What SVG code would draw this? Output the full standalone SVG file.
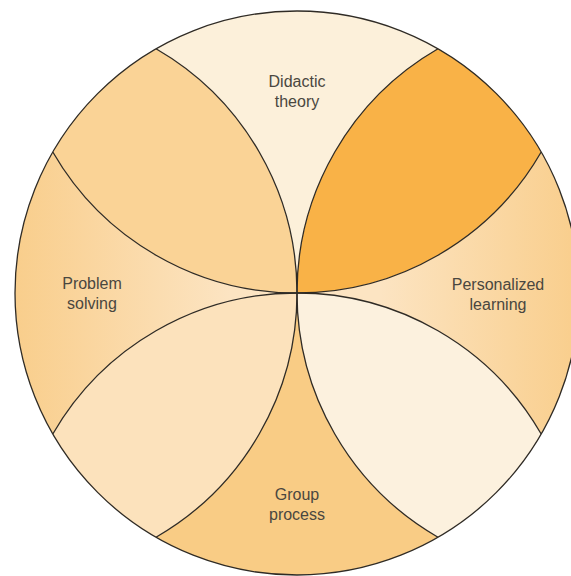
<svg xmlns="http://www.w3.org/2000/svg" width="571" height="576" viewBox="0 0 571 576">
<style>
.lbl{font-family:"Liberation Sans",Arial,sans-serif;font-size:16px;fill:#4a4740;text-anchor:middle}
.ln{fill:none;stroke:#2f2b25;stroke-width:1.3}
</style>
<defs>
<linearGradient id="gR" x1="380" y1="0" x2="579" y2="0" gradientUnits="userSpaceOnUse">
<stop offset="0" stop-color="#FCE4C2"/><stop offset="1" stop-color="#F9CE8C"/>
</linearGradient>
<linearGradient id="gL" x1="15" y1="0" x2="230" y2="0" gradientUnits="userSpaceOnUse">
<stop offset="0" stop-color="#F9CE8C"/><stop offset="1" stop-color="#FCE4C2"/>
</linearGradient>
</defs>
<rect width="571" height="576" fill="#ffffff"/>
<g id="didactic-theory">
<path fill="#FCF0DA" d="M297 293 A282 282 0 0 0 156 48.8 A282 282 0 0 1 438 48.8 A282 282 0 0 0 297 293 Z"/>
<text class="lbl" x="297" y="87">Didactic</text>
<text class="lbl" x="297" y="107">theory</text>
</g>
<g id="petal-top-right">
<path fill="#F9B247" d="M297 293 A282 282 0 0 1 438 48.8 A282 282 0 0 1 541.2 152 A282 282 0 0 1 297 293 Z"/>
</g>
<g id="personalized-learning">
<path fill="url(#gR)" d="M297 293 A282 282 0 0 0 541.2 152 A282 282 0 0 1 541.2 434 A282 282 0 0 0 297 293 Z"/>
<text class="lbl" x="498" y="290">Personalized</text>
<text class="lbl" x="498" y="310">learning</text>
</g>
<g id="petal-bottom-right">
<path fill="#FCF1DE" d="M297 293 A282 282 0 0 1 541.2 434 A282 282 0 0 1 438 537.2 A282 282 0 0 1 297 293 Z"/>
</g>
<g id="group-process">
<path fill="#F9CC85" d="M297 293 A282 282 0 0 0 438 537.2 A282 282 0 0 1 156 537.2 A282 282 0 0 0 297 293 Z"/>
<text class="lbl" x="297" y="500">Group</text>
<text class="lbl" x="297" y="520">process</text>
</g>
<g id="petal-bottom-left">
<path fill="#FCE2BC" d="M297 293 A282 282 0 0 1 156 537.2 A282 282 0 0 1 52.8 434 A282 282 0 0 1 297 293 Z"/>
</g>
<g id="problem-solving">
<path fill="url(#gL)" d="M297 293 A282 282 0 0 0 52.8 434 A282 282 0 0 1 52.8 152 A282 282 0 0 0 297 293 Z"/>
<text class="lbl" x="92" y="289">Problem</text>
<text class="lbl" x="92" y="309">solving</text>
</g>
<g id="petal-top-left">
<path fill="#FAD396" d="M297 293 A282 282 0 0 1 52.8 152 A282 282 0 0 1 156 48.8 A282 282 0 0 1 297 293 Z"/>
</g>
<g id="connectors">
<circle class="ln" cx="297" cy="293" r="282"/>
<path class="ln" d="M156 48.8 A282 282 0 0 1 297 293 A282 282 0 0 1 156 537.2"/>
<path class="ln" d="M438 48.8 A282 282 0 0 0 297 293 A282 282 0 0 0 438 537.2"/>
<path class="ln" d="M52.8 152 A282 282 0 0 0 297 293 A282 282 0 0 0 541.2 152"/>
<path class="ln" d="M52.8 434 A282 282 0 0 1 297 293 A282 282 0 0 1 541.2 434"/>
</g>
</svg>
